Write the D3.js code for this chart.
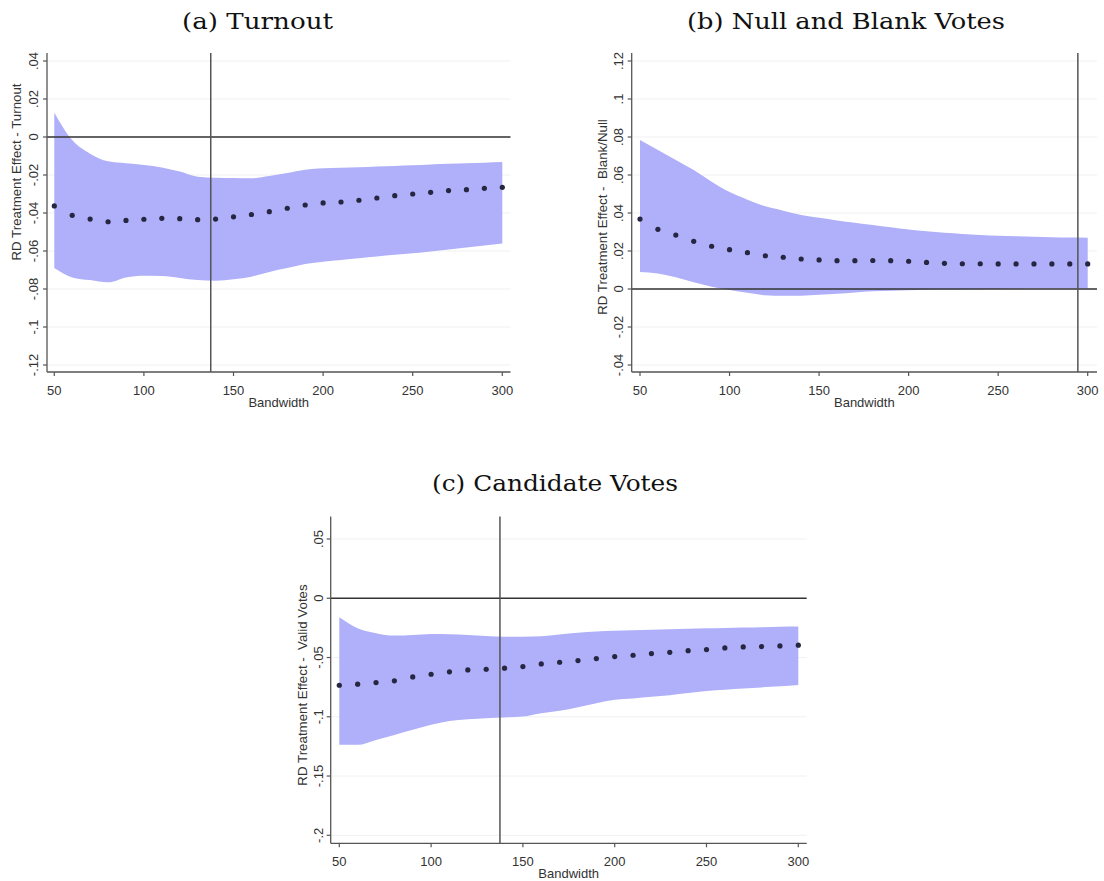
<!DOCTYPE html>
<html>
<head>
<meta charset="utf-8">
<script src="https://cdn.jsdelivr.net/npm/d3@7"></script>
<style>
  body { margin: 0; background: #fff; }
  svg { display: block; }
</style>
</head>
<body>
<svg id="chart" width="1104" height="881"></svg>
<script>
// ---------------- DATA ----------------
const bandwidths = [50,60,70,80,90,100,110,120,130,140,150,160,170,180,190,200,210,220,230,240,250,260,270,280,290,300];

// (a) Turnout
const turnoutEst   = [-0.0363,-0.0412,-0.0432,-0.0446,-0.0439,-0.0433,-0.0428,-0.0430,-0.0435,-0.0432,-0.0420,-0.0408,-0.0393,-0.0375,-0.0358,-0.0347,-0.0342,-0.0333,-0.0321,-0.0309,-0.0300,-0.0291,-0.0282,-0.0277,-0.0270,-0.0265];
const turnoutUpper = [0.0128,-0.0016,-0.0088,-0.0128,-0.0138,-0.0147,-0.0160,-0.0182,-0.0209,-0.0214,-0.0216,-0.0217,-0.0205,-0.0190,-0.0172,-0.0165,-0.0162,-0.0159,-0.0155,-0.0152,-0.0149,-0.0145,-0.0141,-0.0138,-0.0135,-0.0132];
const turnoutLower = [-0.0690,-0.0739,-0.0753,-0.0765,-0.0739,-0.0730,-0.0732,-0.0742,-0.0753,-0.0756,-0.0749,-0.0735,-0.0710,-0.0690,-0.0668,-0.0656,-0.0647,-0.0638,-0.0629,-0.0620,-0.0612,-0.0602,-0.0592,-0.0582,-0.0571,-0.0560];

// (b) Null and Blank Votes
const blankEst   = [0.0368,0.0314,0.0284,0.0251,0.0225,0.0207,0.0191,0.0175,0.0167,0.0158,0.0153,0.0149,0.0149,0.0150,0.0149,0.0146,0.0140,0.0135,0.0133,0.0133,0.0132,0.0132,0.0132,0.0132,0.0132,0.0132];
const blankUpper = [0.0784,0.0732,0.0679,0.0626,0.0565,0.0510,0.0470,0.0435,0.0412,0.0390,0.0375,0.0361,0.0349,0.0337,0.0325,0.0313,0.0304,0.0296,0.0290,0.0284,0.0280,0.0277,0.0275,0.0273,0.0271,0.0270];
const blankLower = [0.0090,0.0082,0.0062,0.0035,0.0012,-0.0005,-0.0020,-0.0033,-0.0036,-0.0035,-0.0030,-0.0025,-0.0018,-0.0012,-0.0009,-0.0006,-0.0004,-0.0003,-0.0002,-0.0001,0.0000,0.0001,0.0002,0.0003,0.0003,0.0004];

// (c) Candidate Votes
const validEst   = [-0.0734,-0.0725,-0.0711,-0.0697,-0.0664,-0.0641,-0.0621,-0.0605,-0.0599,-0.0590,-0.0576,-0.0554,-0.0540,-0.0526,-0.0509,-0.0492,-0.0481,-0.0467,-0.0456,-0.0442,-0.0433,-0.0419,-0.0411,-0.0408,-0.0402,-0.0396];
const validUpper = [-0.0160,-0.0253,-0.0295,-0.0315,-0.0310,-0.0301,-0.0303,-0.0310,-0.0318,-0.0324,-0.0324,-0.0320,-0.0305,-0.0290,-0.0280,-0.0275,-0.0270,-0.0266,-0.0262,-0.0258,-0.0253,-0.0250,-0.0247,-0.0244,-0.0241,-0.0239];
const validLower = [-0.1237,-0.1237,-0.1195,-0.1153,-0.1110,-0.1068,-0.1035,-0.1020,-0.1012,-0.1006,-0.0998,-0.0970,-0.0950,-0.0920,-0.0885,-0.0857,-0.0845,-0.0832,-0.0818,-0.0800,-0.0782,-0.0772,-0.0762,-0.0752,-0.0742,-0.0731];

// optimal bandwidths (vertical reference lines)
const optimalBW = [137.3, 294.5, 137.5];

// tick values / labels
const xTicks = [50,100,150,200,250,300];
const yTicksA = [-0.12,-0.10,-0.08,-0.06,-0.04,-0.02,0,0.02,0.04];
const yLabelsA = ["-.12","-.1","-.08","-.06","-.04","-.02","0",".02",".04"];
const yTicksB = [-0.04,-0.02,0,0.02,0.04,0.06,0.08,0.10,0.12];
const yLabelsB = ["-.04","-.02","0",".02",".04",".06",".08",".1",".12"];
const yTicksC = [-0.20,-0.15,-0.10,-0.05,0,0.05];
const yLabelsC = ["-.2","-.15","-.1","-.05","0",".05"];

const titles = ["(a) Turnout","(b) Null and Blank Votes","(c) Candidate Votes"];
const yTitles = ["RD Treatment Effect - Turnout","RD Treatment Effect -  Blank/Null","RD Treatment Effect -  Valid Votes"];
const xTitle = "Bandwidth";

// ---------------- LAYOUT ----------------
const panels = [
  { est: turnoutEst, up: turnoutUpper, lo: turnoutLower, yTicks: yTicksA, yLabels: yLabelsA,
    yDom: [-0.12,0.04], yRange: [365,61], xRange: [54.3,502.3],
    left: 47, right: 510.5, top: 53, bottom: 372,
    title: titles[0], titleX: 182, titleW: 151, titleY: 29,
    yTitle: yTitles[0], yTitleX: 16, yTitleY: 172,
    tickLabX: 33, xTickY: 395, xTitleY: 407, opt: optimalBW[0] },
  { est: blankEst, up: blankUpper, lo: blankLower, yTicks: yTicksB, yLabels: yLabelsB,
    yDom: [-0.04,0.12], yRange: [365,61], xRange: [640,1087.7],
    left: 631.7, right: 1097, top: 53, bottom: 372,
    title: titles[1], titleX: 687, titleW: 318, titleY: 29,
    yTitle: yTitles[1], yTitleX: 602, yTitleY: 217,
    tickLabX: 618, xTickY: 395, xTitleY: 407, opt: optimalBW[1] },
  { est: validEst, up: validUpper, lo: validLower, yTicks: yTicksC, yLabels: yLabelsC,
    yDom: [-0.2,0.05], yRange: [835.3,539], xRange: [339.3,798.3],
    left: 330.7, right: 806.7, top: 516.5, bottom: 843.3,
    title: titles[2], titleX: 432, titleW: 246, titleY: 491,
    yTitle: yTitles[2], yTitleX: 302, yTitleY: 685,
    tickLabX: 318.3, xTickY: 866, xTitleY: 878, opt: optimalBW[2] }
];

const svg = d3.select("#chart");
const sans = "'Liberation Sans', Arial, Helvetica, sans-serif";
const serif = "'DejaVu Serif', 'Liberation Serif', serif";
const axisCol = "#555";
const bandCol = "#afaffa";
const dotCol = "#262640";

panels.forEach(p => {
  const g = svg.append("g");
  const x = d3.scaleLinear().domain([50,300]).range(p.xRange);
  const y = d3.scaleLinear().domain(p.yDom).range(p.yRange);

  // title
  g.append("text")
    .attr("x", p.titleX).attr("y", p.titleY)
    .attr("font-family", serif).attr("font-size", 22.5)
    .attr("fill", "#111")
    .attr("textLength", p.titleW).attr("lengthAdjust", "spacingAndGlyphs")
    .text(p.title);

  // faint gridlines
  g.selectAll("line.grid").data(p.yTicks).join("line")
    .attr("class","grid")
    .attr("x1", p.left + 1).attr("x2", p.right)
    .attr("y1", d => y(d)).attr("y2", d => y(d))
    .attr("stroke", "#f1f1f1").attr("stroke-width", 1);

  // confidence band
  const idx = d3.range(bandwidths.length);
  const area = d3.area()
    .x(i => x(bandwidths[i]))
    .y0(i => y(p.lo[i]))
    .y1(i => y(p.up[i]))
    .curve(d3.curveMonotoneX);
  g.append("path").datum(idx)
    .attr("d", area)
    .attr("fill", bandCol);

  // zero line
  g.append("line")
    .attr("x1", p.left).attr("x2", p.right)
    .attr("y1", y(0)).attr("y2", y(0))
    .attr("stroke", "#333").attr("stroke-width", 1.3);

  // optimal bandwidth vertical line
  g.append("line")
    .attr("x1", x(p.opt)).attr("x2", x(p.opt))
    .attr("y1", p.top).attr("y2", p.bottom)
    .attr("stroke", "#555").attr("stroke-width", 1.5);

  // point estimates
  g.selectAll("circle.pt").data(idx).join("circle")
    .attr("class","pt")
    .attr("cx", i => x(bandwidths[i]))
    .attr("cy", i => y(p.est[i]))
    .attr("r", 2.6)
    .attr("fill", dotCol);

  // y axis
  g.append("line")
    .attr("x1", p.left).attr("x2", p.left)
    .attr("y1", p.top).attr("y2", p.bottom)
    .attr("stroke", axisCol).attr("stroke-width", 1.3);
  g.selectAll("line.ytick").data(p.yTicks).join("line")
    .attr("class","ytick")
    .attr("x1", p.left - 4).attr("x2", p.left)
    .attr("y1", d => y(d)).attr("y2", d => y(d))
    .attr("stroke", axisCol).attr("stroke-width", 1.2);
  g.selectAll("text.ylab").data(p.yTicks).join("text")
    .attr("class","ylab")
    .attr("transform", d => `translate(${p.tickLabX},${y(d)}) rotate(-90)`)
    .attr("text-anchor", "middle")
    .attr("dy", "0.35em")
    .attr("font-family", sans).attr("font-size", 13).attr("fill", "#333")
    .text((d,i) => p.yLabels[i]);
  g.append("text")
    .attr("transform", `translate(${p.yTitleX},${p.yTitleY}) rotate(-90)`)
    .attr("text-anchor", "middle")
    .attr("dy", "0.35em")
    .attr("font-family", sans).attr("font-size", 13.3).attr("fill", "#333")
    .style("white-space", "pre")
    .text(p.yTitle);

  // x axis
  g.append("line")
    .attr("x1", p.left).attr("x2", p.right)
    .attr("y1", p.bottom).attr("y2", p.bottom)
    .attr("stroke", axisCol).attr("stroke-width", 1.3);
  g.selectAll("line.xtick").data(xTicks).join("line")
    .attr("class","xtick")
    .attr("x1", d => x(d)).attr("x2", d => x(d))
    .attr("y1", p.bottom).attr("y2", p.bottom + 4)
    .attr("stroke", axisCol).attr("stroke-width", 1.2);
  g.selectAll("text.xlab").data(xTicks).join("text")
    .attr("class","xlab")
    .attr("x", d => x(d)).attr("y", p.xTickY)
    .attr("text-anchor", "middle")
    .attr("font-family", sans).attr("font-size", 13).attr("fill", "#333")
    .text(d => d);
  g.append("text")
    .attr("x", (p.left + p.right) / 2).attr("y", p.xTitleY)
    .attr("text-anchor", "middle")
    .attr("font-family", sans).attr("font-size", 13).attr("fill", "#333")
    .text(xTitle);
});
</script>
</body>
</html>
